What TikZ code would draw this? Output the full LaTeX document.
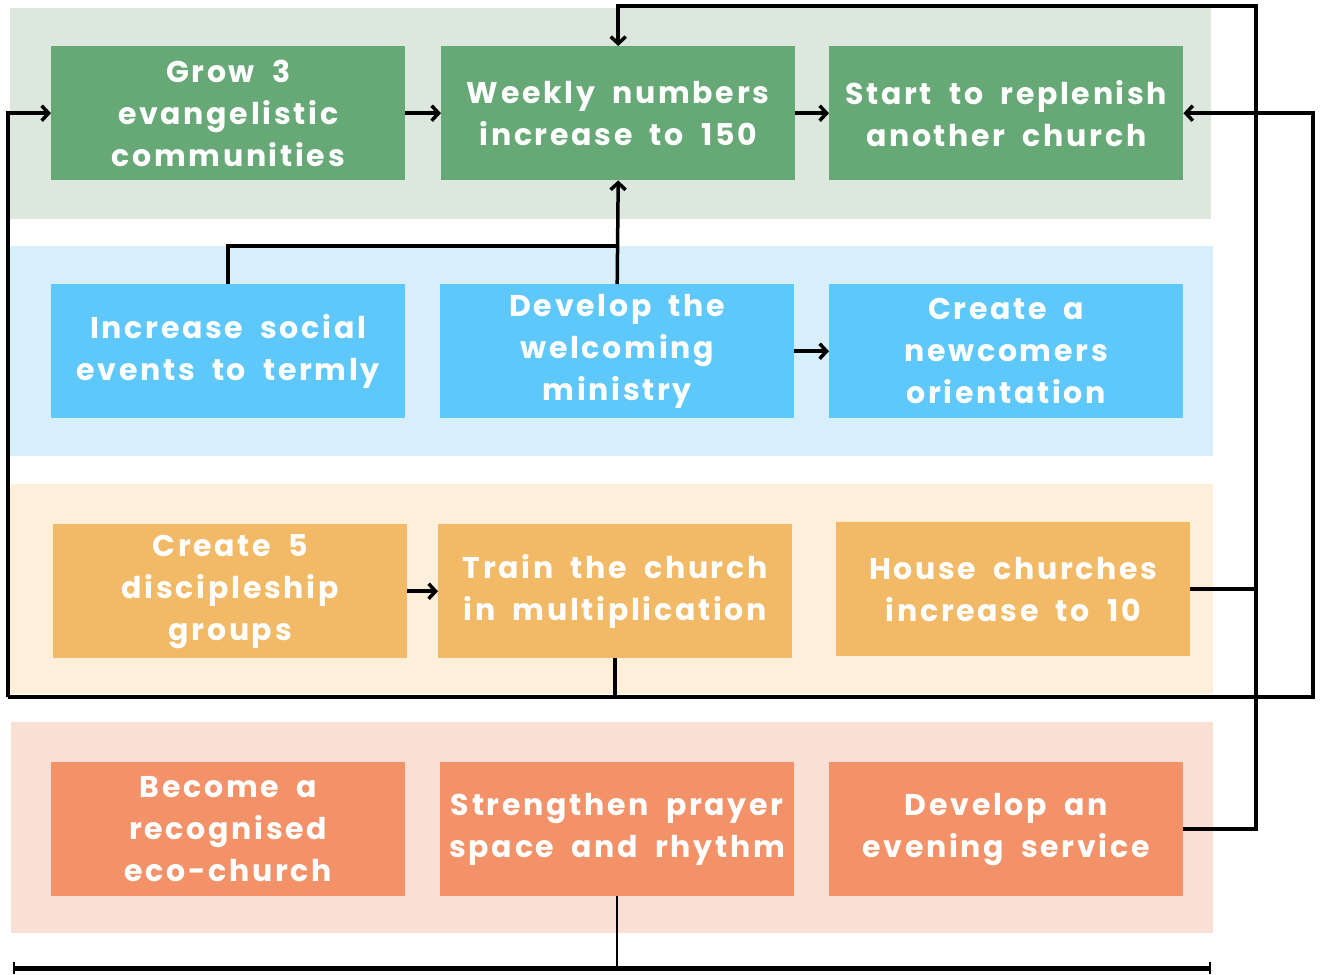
\documentclass[tikz,border=0pt]{standalone}
\usepackage{fontspec}
\setmainfont{Poppins}
\newfontfamily\popfont{Poppins}[LetterSpace=9,WordSpace=1.9]
\usetikzlibrary{arrows.meta}
\definecolor{gbox}{HTML}{67A877}
\definecolor{gband}{HTML}{DCE8DE}
\definecolor{bbox}{HTML}{5EC8FB}
\definecolor{bband}{HTML}{D6EFFB}
\definecolor{obox}{HTML}{F2BA66}
\definecolor{oband}{HTML}{FEEFDB}
\definecolor{sbox}{HTML}{F39268}
\definecolor{sband}{HTML}{F9DFD4}
\tikzset{
  goal/.style={minimum width=354pt,minimum height=134pt,inner sep=0pt,anchor=north west,
    text=white,align=center,font=\popfont\bfseries\fontsize{30}{42}\selectfont},
  conn/.style={line width=3.5pt,black},
  arr/.style={conn,-{Straight Barb[length=7pt,width=15pt,line width=3.5pt]}},
}
\begin{document}
\begin{tikzpicture}[x=1pt,y=-1pt]
\useasboundingbox (0,0) rectangle (1321,974);
% bands
\fill[gband] (10,8) rectangle (1211,219);
\fill[bband] (10,246) rectangle (1213,456);
\fill[oband] (10,484) rectangle (1213,694);
\fill[sband] (11,722) rectangle (1213,933);
% row 1
\node[goal,fill=gbox] (g1) at (51,46) {Grow 3\\evangelistic\\communities};
\node[goal,fill=gbox] (g2) at (441,46) {Weekly numbers\\increase to 150};
\node[goal,fill=gbox] (g3) at (829,46) {Start to replenish\\another church};
% row 2
\node[goal,fill=bbox] (b1) at (51,284) {Increase social\\events to termly};
\node[goal,fill=bbox] (b2) at (440,284) {Develop the\\welcoming\\ministry};
\node[goal,fill=bbox] (b3) at (829,284) {Create a\\newcomers\\orientation};
% row 3
\node[goal,fill=obox] (o1) at (53,524) {Create 5\\discipleship\\groups};
\node[goal,fill=obox] (o2) at (438,524) {Train the church\\in multiplication};
\node[goal,fill=obox] (o3) at (836,522) {House churches\\increase to 10};
% row 4
\node[goal,fill=sbox] (s1) at (51,762) {Become a\\recognised\\eco-church};
\node[goal,fill=sbox] (s2) at (440,762) {Strengthen prayer\\space and rhythm};
\node[goal,fill=sbox] (s3) at (829,762) {Develop an\\evening service};
% coordinates
\coordinate (jb) at (617,246);
\coordinate (tr) at (1256,6);
\coordinate (bl) at (8,697);
\coordinate (br) at (1313,697);
\coordinate (bbl) at (13,968);
\coordinate (bbr) at (1211,968);
% connectors
\draw[arr] (g1.east) -- (g2.west);
\draw[arr] (g2.east) -- (g3.west);
\draw[arr] (b2.east) -- (b3.west);
\draw[arr] (o1.east) -- (o2.west);
\draw[conn] (b1.north) |- (jb);
\draw[arr] (b2.north) -- (g2.south);
\draw[arr] (s3.east) -| (tr) -| (g2.north);
\draw[conn] (o3.east) -- (o3.east -| tr);
\draw[arr] (bl) -- (br) |- (g3.east);
\draw[arr] (bl) |- (g1.west);
\draw[conn] (o2.south) -- (o2.south |- bl);
\draw[line width=2.5pt] (s2.south) -- (s2.south |- bbl);
\draw[line width=5pt,{Bar[width=12pt,line width=2pt]}-{Bar[width=12pt,line width=2pt]}] (bbl) -- (bbr);
\end{tikzpicture}
\end{document}
